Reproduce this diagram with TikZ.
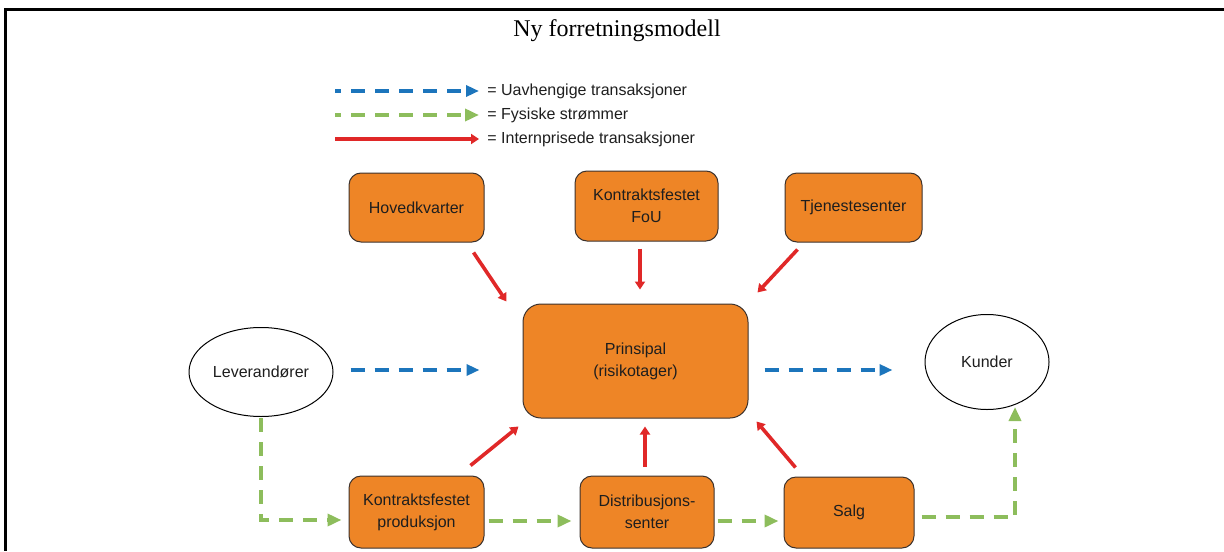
\documentclass[tikz,border=0pt]{standalone}
\usepackage{fontspec}
\setmainfont{Liberation Serif}
\newfontfamily\boxfont{Liberation Sans}
\usetikzlibrary{arrows.meta,shapes.geometric}

\definecolor{boxorange}{RGB}{238,133,38}
\definecolor{boxedge}{RGB}{60,50,45}
\definecolor{flowblue}{RGB}{28,117,188}
\definecolor{flowgreen}{RGB}{141,189,92}
\definecolor{flowred}{RGB}{224,40,40}
\definecolor{labeltext}{RGB}{30,30,30}

\tikzset{
  unit/.style={draw=boxedge, line width=0.5pt, fill=boxorange, rounded corners=6pt,
    align=center, font=\boxfont\fontsize{8pt}{10pt}\selectfont, text=labeltext, inner sep=0pt},
  party/.style={draw=black, line width=0.5pt, ellipse, fill=white, inner sep=0pt,
    font=\boxfont\fontsize{8pt}{10pt}\selectfont, text=labeltext},
  legendtext/.style={anchor=west, inner sep=0pt, font=\boxfont\fontsize{8pt}{10pt}\selectfont, text=labeltext},
  indep/.style={draw=flowblue, line width=2pt, dash pattern=on 7pt off 5pt,
    -{Triangle[length=6.5pt,width=5.5pt]}},
  physical/.style={draw=flowgreen, line width=2pt, dash pattern=on 7pt off 5pt,
    -{Triangle[length=7pt,width=6pt]}},
  internal/.style={draw=flowred, line width=1.8pt, -{Triangle[length=4pt,width=5pt]}}
}

\begin{document}
\begin{tikzpicture}[x=0.5pt,y=-0.5pt]
  \useasboundingbox (0,0) rectangle (1224,551);

  % frame
  \draw[line width=1.5pt, line join=miter] (1224,10) -- (5,10) -- (5,551);

  % title
  \node[font=\fontsize{12pt}{14pt}\selectfont] (title) at (617,31) {Ny forretningsmodell};

  % legend
  \coordinate (lb1) at (335,91);  \coordinate (le1) at (479,91);
  \coordinate (lb2) at (335,115); \coordinate (le2) at (479,115);
  \coordinate (lb3) at (335,139); \coordinate (le3) at (479,139);
  \draw[indep, dash phase=4pt] (lb1) -- (le1);
  \draw[physical, dash phase=4pt] (lb2) -- (le2);
  \draw[internal] (lb3) -- (le3);
  \node[legendtext] (t1) at (487,91)  {= Uavhengige transaksjoner};
  \node[legendtext] (t2) at (487,115) {= Fysiske strømmer};
  \node[legendtext] (t3) at (487,139) {= Internprisede transaksjoner};

  % units
  \node[unit, minimum width=67.5pt, minimum height=34.5pt] (hq)   at (416.5,207.5) {Hovedkvarter};
  \node[unit, minimum width=71.5pt, minimum height=35pt]   (fou)  at (646.5,206)   {Kontraktsfestet\\[1pt]FoU};
  \node[unit, minimum width=68.5pt, minimum height=34.5pt] (svc)  at (853.5,207.5) {Tjenestesenter};
  \node[unit, minimum width=112.5pt, minimum height=57pt, rounded corners=9pt] (pr) at (635.5,361) {Prinsipal\\[1pt](risikotager)};
  \node[unit, minimum width=67.5pt, minimum height=36pt]   (prod) at (416.5,512)   {Kontraktsfestet\\[1pt]produksjon};
  \node[unit, minimum width=67pt, minimum height=36pt]     (dist) at (647,512)     {Distribusjons-\\[1pt]senter};
  \node[unit, minimum width=65pt, minimum height=35.5pt]   (salg) at (849,512.5)   {Salg};

  % outside parties
  \node[party, minimum width=72pt, minimum height=44.5pt] (lev) at (261,372) {Leverandører};
  \node[party, minimum width=62pt, minimum height=47.5pt] (kun) at (987,362) {Kunder};

  % internal priced transactions
  \draw[internal] ([shift={(-11,10)}]hq.south east) -- ([shift={(-16,-2)}]pr.north west);
  \draw[internal] ([shift={(-6.5,7)}]fou.south) -- ([shift={(4.5,-14)}]pr.north);
  \draw[internal] ([shift={(13,7)}]svc.south west) -- ([shift={(9,-11)}]pr.north east);
  \draw[internal] ([shift={(-14,-10)}]prod.north east) -- ([shift={(-4,8)}]pr.south west);
  \draw[internal] ([shift={(-2,-9)}]dist.north) -- ([shift={(9.5,8)}]pr.south);
  \draw[internal] ([shift={(12,-9)}]salg.north west) -- ([shift={(8,3)}]pr.south east);

  % independent transactions
  \draw[indep] ([shift={(17,-2)}]lev.east) -- ([shift={(-43,9)}]pr.west);
  \draw[indep] ([shift={(16,9)}]pr.east) -- ([shift={(-32,8)}]kun.west);

  % physical flows
  \draw[physical] ([shift={(0,1)}]lev.south) |- ([shift={(-7,8)}]prod.west);
  \draw[physical] ([shift={(4,9)}]prod.east) -- ([shift={(-8,9)}]dist.west);
  \draw[physical] ([shift={(3,9)}]dist.east) -- ([shift={(-5,8.5)}]salg.west);
  \draw[physical] ([shift={(7,4.5)}]salg.east) -| ([shift={(28,-3)}]kun.south);
\end{tikzpicture}
\end{document}
